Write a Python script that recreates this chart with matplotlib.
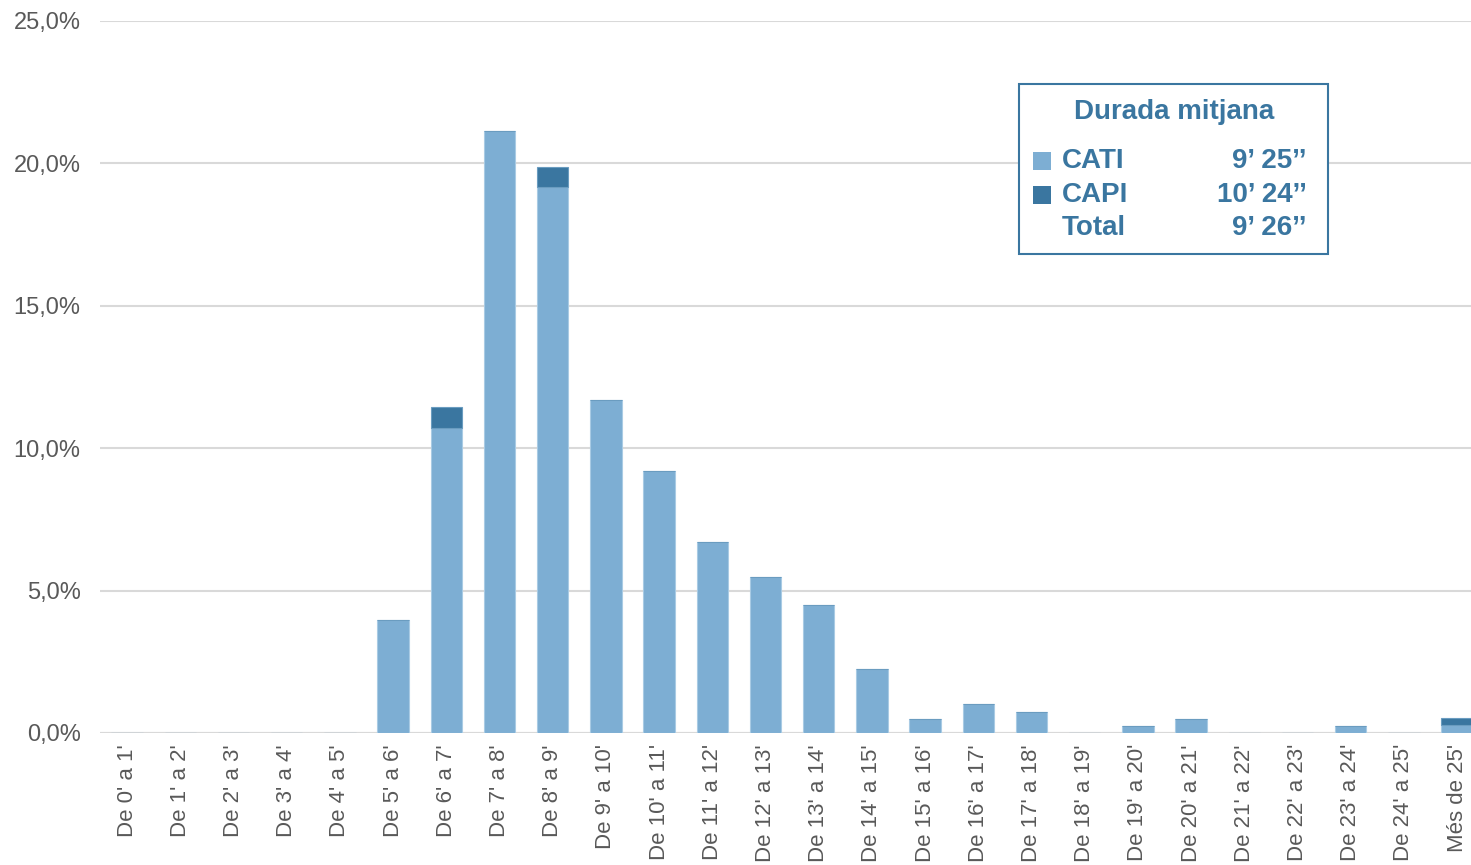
import numpy as np
import matplotlib.pyplot as plt
from matplotlib.patches import Rectangle

# dades
categories = ["De 0' a 1'", "De 1' a 2'", "De 2' a 3'", "De 3' a 4'", "De 4' a 5'",
              "De 5' a 6'", "De 6' a 7'", "De 7' a 8'", "De 8' a 9'", "De 9' a 10'",
              "De 10' a 11'", "De 11' a 12'", "De 12' a 13'", "De 13' a 14'", "De 14' a 15'",
              "De 15' a 16'", "De 16' a 17'", "De 17' a 18'", "De 18' a 19'", "De 19' a 20'",
              "De 20' a 21'", "De 21' a 22'", "De 22' a 23'", "De 23' a 24'", "De 24' a 25'",
              "Més de 25'"]
cati = [0, 0, 0, 0, 0, 3.97, 10.71, 21.14, 19.17, 11.69,
        9.2, 6.71, 5.48, 4.49, 2.25, 0.49, 1.02, 0.74, 0, 0.25,
        0.49, 0, 0, 0.25, 0, 0.28]
capi = [0, 0, 0, 0, 0, 0, 0.74, 0, 0.70, 0,
        0, 0, 0, 0, 0, 0, 0, 0, 0, 0,
        0, 0, 0, 0, 0, 0.25]
yticks = [0, 5, 10, 15, 20, 25]

leg_title = "Durada mitjana"
leg_names = ["CATI", "CAPI", "Total"]
leg_values = ["9\u2019 25\u2019\u2019", "10\u2019 24\u2019\u2019", "9\u2019 26\u2019\u2019"]

c_cati = "#7DAED3"
c_capi = "#3A76A0"
c_text = "#3A76A0"

plt.rcParams['font.family'] = ['Liberation Sans', 'DejaVu Sans']

fig = plt.figure(figsize=(14.71, 8.65), dpi=100)
ax = fig.add_axes([100/1471, 132/865, 1 - 100/1471, 712/865])

x = np.arange(len(categories))
ax.bar(x, cati, width=0.59, color=c_cati, edgecolor="#A9CBE4", linewidth=0.8, zorder=3)
ax.bar(x, capi, width=0.59, bottom=cati, color=c_capi, edgecolor="#6A9CC0", linewidth=0.8, zorder=3)

ax.set_xlim(-0.51, 25.26)
ax.set_ylim(0, 25)
ax.set_yticks(yticks)
ax.set_yticklabels([f"{v:.1f}".replace(".", ",") + "%" for v in yticks])
ax.set_xticks(x)
ax.set_xticklabels(categories, rotation=90)
ax.tick_params(axis='both', length=0, colors="#595959")
ax.tick_params(axis='y', pad=14, labelsize=17)
ax.tick_params(axis='x', pad=8, labelsize=16)
ax.yaxis.grid(True, color="#D9D9D9", linewidth=1.5, zorder=0)
ax.set_axisbelow(True)
for s in ax.spines.values():
    s.set_visible(False)
ax.axhline(0, color="#D9D9D9", linewidth=1.5, zorder=2)

# caixa de llegenda
def fx(px):
    return px / 1471
def fy(py):
    return 1 - py / 865

box = Rectangle((fx(1019), fy(254)), fx(1328) - fx(1019), fy(84) - fy(254),
                transform=fig.transFigure, facecolor="white", edgecolor=c_text,
                linewidth=1.5, zorder=5)
fig.patches.append(box)
fig.text(fx(1174), fy(112), leg_title, ha="center", va="center",
         fontsize=20, fontweight="bold", color=c_text, zorder=7)
rows_y = [161, 195, 228]
swatches = [c_cati, c_capi, None]
for name, val, yy, sw in zip(leg_names, leg_values, rows_y, swatches):
    if sw is not None:
        fig.patches.append(Rectangle((fx(1033), fy(yy + 9)), fx(18), 18/865,
                                     transform=fig.transFigure, facecolor=sw,
                                     edgecolor="none", zorder=6))
    fig.text(fx(1062), fy(yy), name, ha="left", va="center",
             fontsize=20, fontweight="bold", color=c_text, zorder=7)
    fig.text(fx(1307), fy(yy), val, ha="right", va="center",
             fontsize=20, fontweight="bold", color=c_text, zorder=7)

fig.savefig("out.png", dpi=100)
